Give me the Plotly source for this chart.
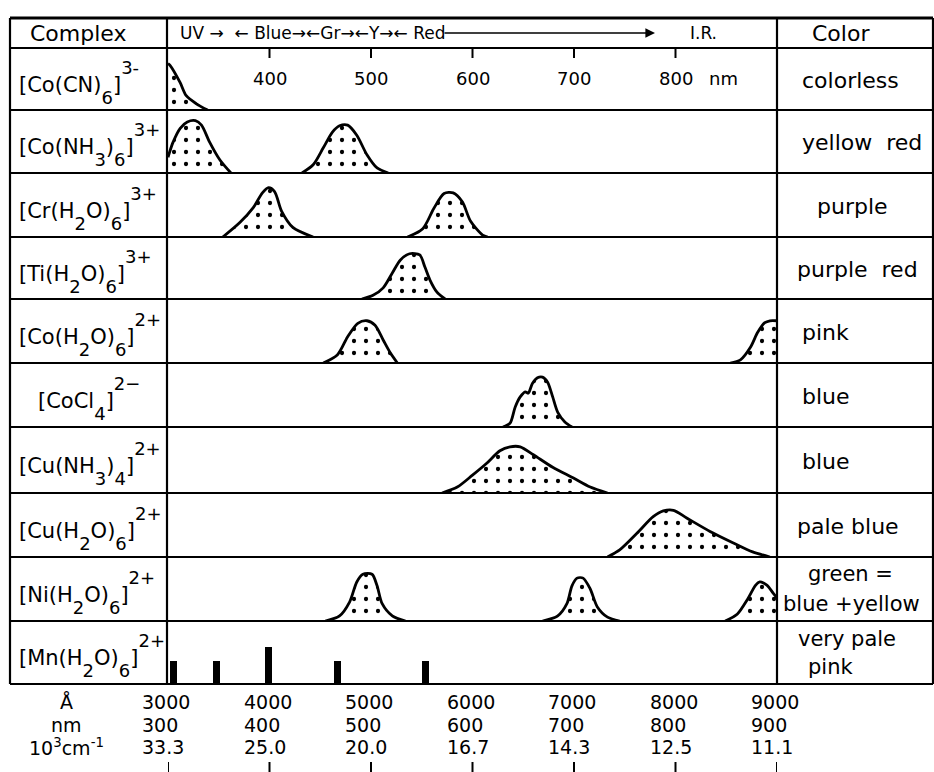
import plotly.graph_objects as go
from plotly.subplots import make_subplots

W, H = 934, 772
FONT = "DejaVu Sans"


def sb(s):
    return f"<sub><span style='font-size:18px;baseline-shift:-8px'>{s}</span></sub>"


def sp(s):
    return f"<sup><span style='font-size:18px;baseline-shift:9px'>{s}</span></sup>"


# ---------------- data ----------------
complexes = [
    "[Co(CN)" + sb("6") + "]" + sp("3-"),
    "[Co(NH" + sb("3") + ")" + sb("6") + "]" + sp("3+"),
    "[Cr(H" + sb("2") + "O)" + sb("6") + "]" + sp("3+"),
    "[Ti(H" + sb("2") + "O)" + sb("6") + "]" + sp("3+"),
    "[Co(H" + sb("2") + "O)" + sb("6") + "]" + sp("2+"),
    "[CoCl" + sb("4") + "]" + sp("2−"),
    "[Cu(NH" + sb("3") + ")" + sb("4") + "]" + sp("2+"),
    "[Cu(H" + sb("2") + "O)" + sb("6") + "]" + sp("2+"),
    "[Ni(H" + sb("2") + "O)" + sb("6") + "]" + sp("2+"),
    "[Mn(H" + sb("2") + "O)" + sb("6") + "]" + sp("2+"),
]
color_names = [
    ["colorless"], ["yellow  red"], ["purple"], ["purple  red"], ["pink"],
    ["blue"], ["blue"], ["pale blue"], ["green =", "blue +yellow"],
    ["very pale", "pink"],
]

# absorption bands: wavelength (nm) and relative absorbance
co_cn6_nm = [300, 302, 312, 318, 328, 339]
co_cn6_abs = [0.75, 0.72, 0.44, 0.23, 0.10, 0.0]

co_nh3_a_nm = [300, 305, 312, 319, 327, 333, 341, 351, 362]
co_nh3_a_abs = [0.25, 0.49, 0.71, 0.81, 0.83, 0.76, 0.49, 0.21, 0.0]
co_nh3_b_nm = [432, 443, 453, 462, 469, 477, 486, 496, 506, 517]
co_nh3_b_abs = [0.0, 0.13, 0.40, 0.65, 0.75, 0.76, 0.60, 0.29, 0.08, 0.0]

cr_h2o_a_nm = [354, 371, 384, 393, 399, 405, 412, 423, 443]
cr_h2o_a_abs = [0.0, 0.23, 0.46, 0.69, 0.77, 0.71, 0.40, 0.15, 0.0]
cr_h2o_b_nm = [536, 551, 562, 572, 581, 590, 598, 610, 615]
cr_h2o_b_abs = [0.0, 0.13, 0.45, 0.68, 0.69, 0.55, 0.25, 0.03, 0.0]

ti_h2o_nm = [491, 502, 512, 521, 529, 538, 548, 553, 558, 565, 573]
ti_h2o_abs = [0.0, 0.06, 0.18, 0.42, 0.63, 0.73, 0.71, 0.52, 0.31, 0.11, 0.0]

co_h2o_a_nm = [453, 467, 477, 487, 496, 504, 512, 519, 526]
co_h2o_a_abs = [0.0, 0.13, 0.41, 0.62, 0.66, 0.59, 0.36, 0.16, 0.0]
co_h2o_b_nm = [854, 864, 874, 881, 888, 893, 900]
co_h2o_b_abs = [0.0, 0.05, 0.25, 0.48, 0.63, 0.66, 0.66]

cocl4_nm = [630, 637, 642, 647, 652, 655, 659, 664, 669, 674, 679, 684, 691, 698]
cocl4_abs = [0.0, 0.06, 0.31, 0.47, 0.55, 0.53, 0.68, 0.77, 0.78, 0.70, 0.47, 0.23, 0.08, 0.0]

cu_nh3_nm = [570, 585, 600, 614, 627, 637, 647, 660, 679, 699, 716, 733]
cu_nh3_abs = [0.0, 0.09, 0.27, 0.45, 0.64, 0.70, 0.70, 0.58, 0.39, 0.23, 0.09, 0.0]

cu_h2o_nm = [733, 745, 762, 778, 788, 798, 811, 834, 857, 876, 893]
cu_h2o_abs = [0.0, 0.11, 0.37, 0.63, 0.72, 0.73, 0.61, 0.40, 0.22, 0.08, 0.0]

ni_a_nm = [455, 469, 479, 486, 492, 501, 506, 511, 521, 534]
ni_a_abs = [0.0, 0.08, 0.30, 0.61, 0.73, 0.73, 0.55, 0.27, 0.08, 0.0]
ni_b_nm = [669, 684, 693, 698, 703, 709, 716, 723, 733, 745]
ni_b_abs = [0.0, 0.08, 0.27, 0.55, 0.67, 0.67, 0.50, 0.22, 0.06, 0.0]
ni_c_nm = [849, 861, 871, 879, 883, 890, 896, 900]
ni_c_abs = [0.0, 0.11, 0.34, 0.56, 0.61, 0.56, 0.44, 0.36]

mn_lines_nm = [305, 348, 399, 467, 554]
mn_lines_abs = [0.37, 0.37, 0.58, 0.37, 0.37]

bands = [
    [(co_cn6_nm, co_cn6_abs)],
    [(co_nh3_a_nm, co_nh3_a_abs), (co_nh3_b_nm, co_nh3_b_abs)],
    [(cr_h2o_a_nm, cr_h2o_a_abs), (cr_h2o_b_nm, cr_h2o_b_abs)],
    [(ti_h2o_nm, ti_h2o_abs)],
    [(co_h2o_a_nm, co_h2o_a_abs), (co_h2o_b_nm, co_h2o_b_abs)],
    [(cocl4_nm, cocl4_abs)],
    [(cu_nh3_nm, cu_nh3_abs)],
    [(cu_h2o_nm, cu_h2o_abs)],
    [(ni_a_nm, ni_a_abs), (ni_b_nm, ni_b_abs), (ni_c_nm, ni_c_abs)],
    [],
]

top_ticks_nm = [400, 500, 600, 700, 800]
top_tick_labels = ["400", "500", "600", "700", "800"]
scale_nm = [300, 400, 500, 600, 700, 800, 900]
scale_angstrom = ["3000", "4000", "5000", "6000", "7000", "8000", "9000"]
scale_nm_labels = ["300", "400", "500", "600", "700", "800", "900"]
scale_wavenumber = ["33.3", "25.0", "20.0", "16.7", "14.3", "12.5", "11.1"]

# ---------------- layout geometry (pixels) ----------------
row_edges = [48, 110, 173, 237, 299, 363, 427, 493, 557, 621, 684]
X_LEFT, X_COL1, X_COL2, X_RIGHT = 10, 167, 777, 933
Y_TOP = 18


def px(x):
    return x / W


def py(y):
    return 1 - y / H


n = len(complexes)
fig = make_subplots(rows=n, cols=1, shared_xaxes=True, vertical_spacing=0)

pattern = dict(shape=".", size=12, solidity=0.1, fgcolor="black", fgopacity=1, bgcolor="white")

for i, row in enumerate(bands):
    for xs, ys in row:
        fig.add_trace(go.Scatter(
            x=xs, y=ys, mode="lines", line=dict(color="black", width=2.8, shape="spline", smoothing=0.8),
            fill="tozeroy", fillcolor="white", fillpattern=pattern, showlegend=False, hoverinfo="skip"),
            row=i + 1, col=1)

fig.add_trace(go.Bar(x=mn_lines_nm, y=mn_lines_abs, width=7, marker=dict(color="black", line=dict(width=0)),
                     showlegend=False, hoverinfo="skip"), row=n, col=1)

for i in range(n):
    top, bot = row_edges[i], row_edges[i + 1]
    key = "yaxis" if i == 0 else f"yaxis{i + 1}"
    fig.layout[key].update(domain=[py(bot), py(top)], range=[0, 1], visible=False, fixedrange=True)

fig.update_xaxes(domain=[px(168), px(777)], range=[300, 900], visible=False)

shapes = []
lw = 2.2
# horizontal table lines
for y in [Y_TOP] + row_edges:
    shapes.append(dict(type="line", xref="paper", yref="paper", x0=px(X_LEFT), x1=px(X_RIGHT),
                       y0=py(y), y1=py(y), line=dict(color="black", width=lw if y != Y_TOP else 2.8)))
# vertical table lines
for x in [X_LEFT, X_COL1, X_COL2, X_RIGHT]:
    shapes.append(dict(type="line", xref="paper", yref="paper", x0=px(x), x1=px(x),
                       y0=py(Y_TOP), y1=py(row_edges[-1]), line=dict(color="black", width=lw)))
# top ticks in first row
for v in top_ticks_nm:
    shapes.append(dict(type="line", xref="x", yref="paper", x0=v, x1=v, y0=py(48), y1=py(58),
                       line=dict(color="black", width=2)))
# bottom ticks
for v in scale_nm:
    shapes.append(dict(type="line", xref="x", yref="paper", x0=v, x1=v, y0=py(762), y1=py(772),
                       line=dict(color="black", width=2)))

ann = []


def text(x, y, s, size=20, xanchor="left", xref="paper", xshift=0):
    ann.append(dict(x=x, y=py(y), xref=xref, yref="paper", text=s, showarrow=False, xshift=xshift,
                    xanchor=xanchor, yanchor="middle", font=dict(family=FONT, size=size, color="black")))


# header
text(px(28), 33, "Complex", 22)
text(px(810), 33, "Color", 22)
text(px(178), 33, "UV →  ← Blue→←Gr→←Y→← Red", 17)
text(px(688), 33, "I.R.", 17)
ann.append(dict(x=px(655), y=py(33), xref="paper", yref="paper", ax=-212, ay=0, text="",
                showarrow=True, arrowhead=2, arrowsize=1.2, arrowwidth=1.6, arrowcolor="black"))

# top tick labels
for v, lab in zip(top_ticks_nm, top_tick_labels):
    text(v, 78, lab, 18, xanchor="center", xref="x")
text(px(707), 78, "nm", 18)

# complex names and colours
for i in range(n):
    yc = (row_edges[i] + row_edges[i + 1]) / 2
    xl = 36 if i == 5 else 17
    text(px(xl), yc + 3, complexes[i], 21)
    lines = color_names[i]
    if len(lines) == 1:
        xoff = {2: 815, 3: 795, 7: 795}.get(i, 800)
        text(px(xoff), yc + 1, lines[0], 22)
    else:
        if i == 8:
            text(px(806), yc - 15, lines[0], 21)
            text(px(781), yc + 15, lines[1], 21)
        else:
            text(px(796), yc - 14, lines[0], 21)
            text(px(806), yc + 14, lines[1], 21)

# bottom scales
text(px(66), 702, "Å", 19, xanchor="center")
text(px(66), 725, "nm", 19, xanchor="center")
text(px(66), 747, "10<sup>3</sup>cm<sup>-1</sup>", 19, xanchor="center")
for v, a, b, c in zip(scale_nm, scale_angstrom, scale_nm_labels, scale_wavenumber):
    text(v, 702, a, 19, xanchor="center", xref="x", xshift=-2)
    text(v, 725, b, 19, xanchor="center", xref="x", xshift=-8)
    text(v, 747, c, 19, xanchor="center", xref="x", xshift=-5)

fig.update_layout(width=W, height=H, margin=dict(l=0, r=0, t=0, b=0), paper_bgcolor="white",
                  plot_bgcolor="white", shapes=shapes, annotations=ann, bargap=0)

fig.write_html("out.html")
